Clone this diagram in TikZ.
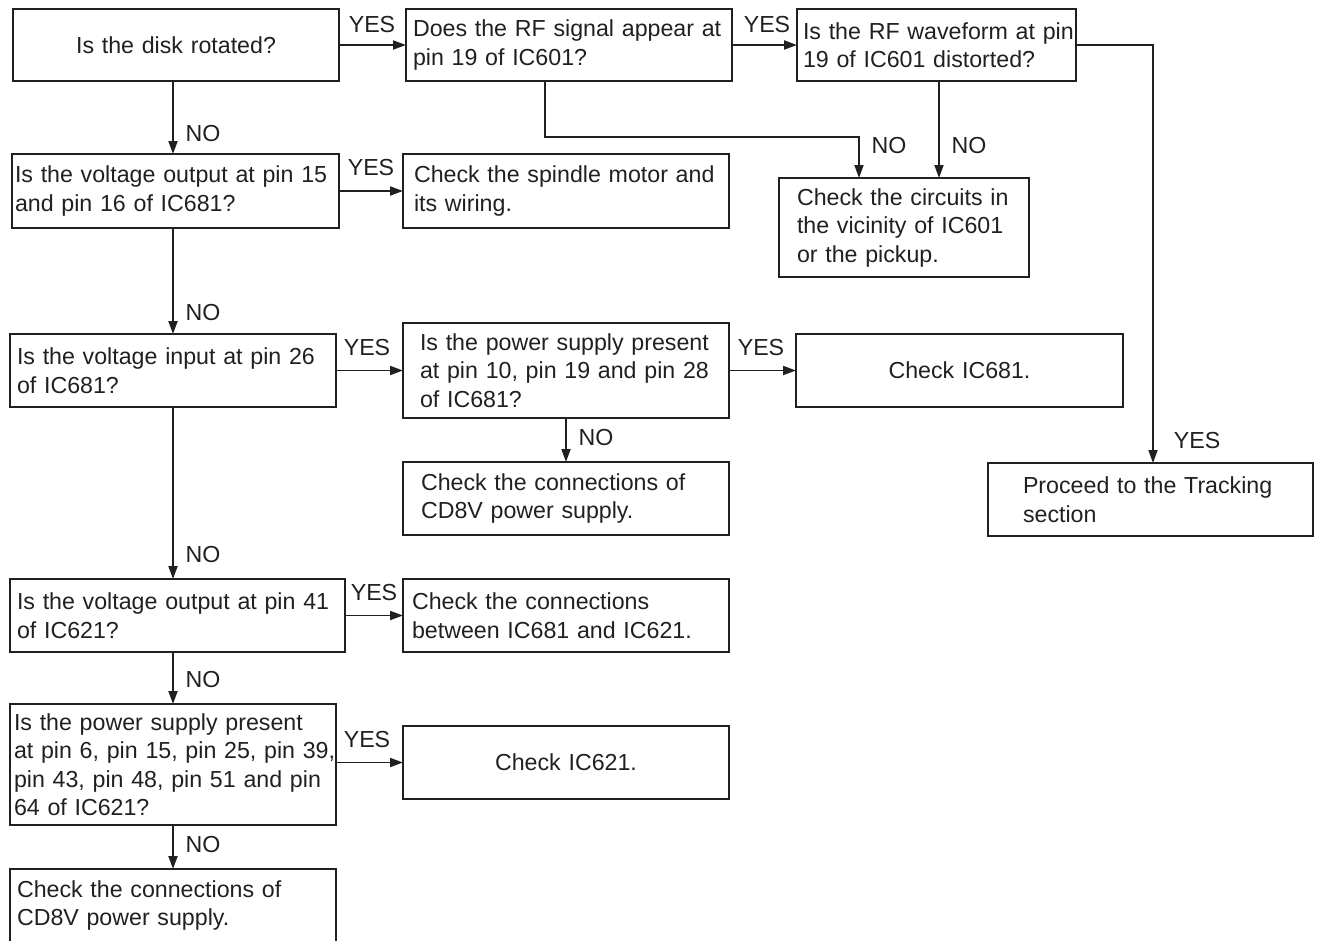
\documentclass[tikz,border=0pt]{standalone}
\usepackage{fontspec}
\setmainfont{Liberation Sans}
\usetikzlibrary{arrows.meta}
\definecolor{ink}{RGB}{35,31,32}
\newcommand\myl[1]{\mbox{#1}}
\begin{document}
\begin{tikzpicture}[x=1pt,y=-1pt,
  every node/.style={font=\fontsize{23.2pt}{28.5pt}\selectfont, text=ink},
  box/.style={draw=ink, line width=1.9pt, anchor=north west, inner ysep=0pt, outer sep=0pt, align=left},
  cbox/.style={box, align=center},
  bx/.style n args={4}{minimum width=#1, minimum height=#2, inner xsep=#3, text width=#4},
  arr/.style={draw=ink, line width=1.9pt, -{Triangle[length=13pt,width=9pt]}},
  lbl/.style={inner sep=0pt, anchor=center}]
\useasboundingbox (0,0) rectangle (1317,940);
\clip (0,0) rectangle (1317,940);

% boxes
\node[cbox, bx={326pt}{72pt}{13pt}{300pt}] (A) at (13,9) {\myl{Is the disk rotated?}};
\node[box, bx={326pt}{72pt}{7pt}{312pt}] (B) at (406,9) {\myl{Does the RF signal appear at}\\\myl{pin 19 of IC601?}};
\node[box, bx={279pt}{72pt}{6pt}{267pt}] (C) at (797,9) {\myl{Is the RF waveform at pin}\\\myl{19 of IC601 distorted?}};
\node[box, bx={250pt}{99pt}{18pt}{214pt}] (D) at (779,178) {\myl{Check the circuits in}\\\myl{the vicinity of IC601}\\\myl{or the pickup.}};
\node[box, bx={327pt}{74pt}{3pt}{321pt}] (E) at (12,154) {\myl{Is the voltage output at pin 15}\\\myl{and pin 16 of IC681?}};
\node[box, bx={326pt}{74pt}{11pt}{304pt}] (F) at (403,154) {\myl{Check the spindle motor and}\\\myl{its wiring.}};
\node[box, bx={326pt}{73pt}{7pt}{312pt}] (G) at (10,334) {\myl{Is the voltage input at pin 26}\\\myl{of IC681?}};
\node[box, bx={326pt}{95pt}{17pt}{292pt}] (H) at (403,323) {\myl{Is the power supply present}\\\myl{at pin 10, pin 19 and pin 28}\\\myl{of IC681?}};
\node[cbox, bx={327pt}{73pt}{13pt}{301pt}] (I) at (796,334) {\myl{Check IC681.}};
\node[box, bx={326pt}{73pt}{18pt}{290pt}] (J) at (403,462) {\myl{Check the connections of}\\\myl{CD8V power supply.}};
\node[box, bx={325pt}{73pt}{35pt}{255pt}] (K) at (988,463) {\myl{Proceed to the Tracking}\\\myl{section}};
\node[box, bx={335pt}{73pt}{7pt}{321pt}] (L) at (10,579) {\myl{Is the voltage output at pin 41}\\\myl{of IC621?}};
\node[box, bx={326pt}{73pt}{9pt}{308pt}] (M) at (403,579) {\myl{Check the connections}\\\myl{between IC681 and IC621.}};
\node[box, bx={326pt}{121pt}{4pt}{318pt}] (N) at (10,704) {\myl{Is the power supply present}\\\myl{at pin 6, pin 15, pin 25, pin 39,}\\\myl{pin 43, pin 48, pin 51 and pin}\\\myl{64 of IC621?}};
\node[cbox, bx={326pt}{73pt}{13pt}{300pt}] (O) at (403,726) {\myl{Check IC621.}};
\node[box, bx={326pt}{73pt}{7pt}{312pt}] (P) at (10,869) {\myl{Check the connections of}\\\myl{CD8V power supply.}};

% helper coordinates
\coordinate (spine) at (173,0);
\coordinate (bd) at (545,0);
\coordinate (bdt) at (859,137);
\coordinate (cd) at (939,0);
\coordinate (ck) at (1153,0);
\coordinate (hj) at (566,0);

% connectors
\draw[arr] (A.east) -- (B.west);
\draw[arr] (B.east) -- (C.west);
\draw[arr] (B.south -| bd) |- (bdt) -- (D.north -| bdt);
\draw[arr] (C.south -| cd) -- (D.north -| cd);
\draw[arr] (C.east) -| (K.north -| ck);
\draw[arr] (A.south -| spine) -- (E.north -| spine);
\draw[arr] (E.east) -- (F.west);
\draw[arr] (E.south -| spine) -- (G.north -| spine);
\draw[arr] (G.east) -- (H.west);
\draw[arr] (H.east) -- (I.west);
\draw[arr] (H.south -| hj) -- (J.north -| hj);
\draw[arr] (G.south -| spine) -- (L.north -| spine);
\draw[arr] (L.east) -- (M.west);
\draw[arr] (L.south -| spine) -- (N.north -| spine);
\draw[arr] (N.east |- O.west) -- (O.west);
\draw[arr] (N.south -| spine) -- (P.north -| spine);

% labels
\node[lbl] (yAB) at (372,25) {YES};
\node[lbl] (yBC) at (767,25) {YES};
\node[lbl] (nBD) at (889,146) {NO};
\node[lbl] (nCD) at (969,146) {NO};
\node[lbl] (yCK) at (1197,441) {YES};
\node[lbl] (nAE) at (203,134) {NO};
\node[lbl] (yEF) at (371,168) {YES};
\node[lbl] (nEG) at (203,313) {NO};
\node[lbl] (yGH) at (367,348) {YES};
\node[lbl] (yHI) at (761,348) {YES};
\node[lbl] (nHJ) at (596,438) {NO};
\node[lbl] (nGL) at (203,555) {NO};
\node[lbl] (yLM) at (374,593) {YES};
\node[lbl] (nLN) at (203,680) {NO};
\node[lbl] (yNO) at (367,740) {YES};
\node[lbl] (nNP) at (203,845) {NO};
\end{tikzpicture}
\end{document}
